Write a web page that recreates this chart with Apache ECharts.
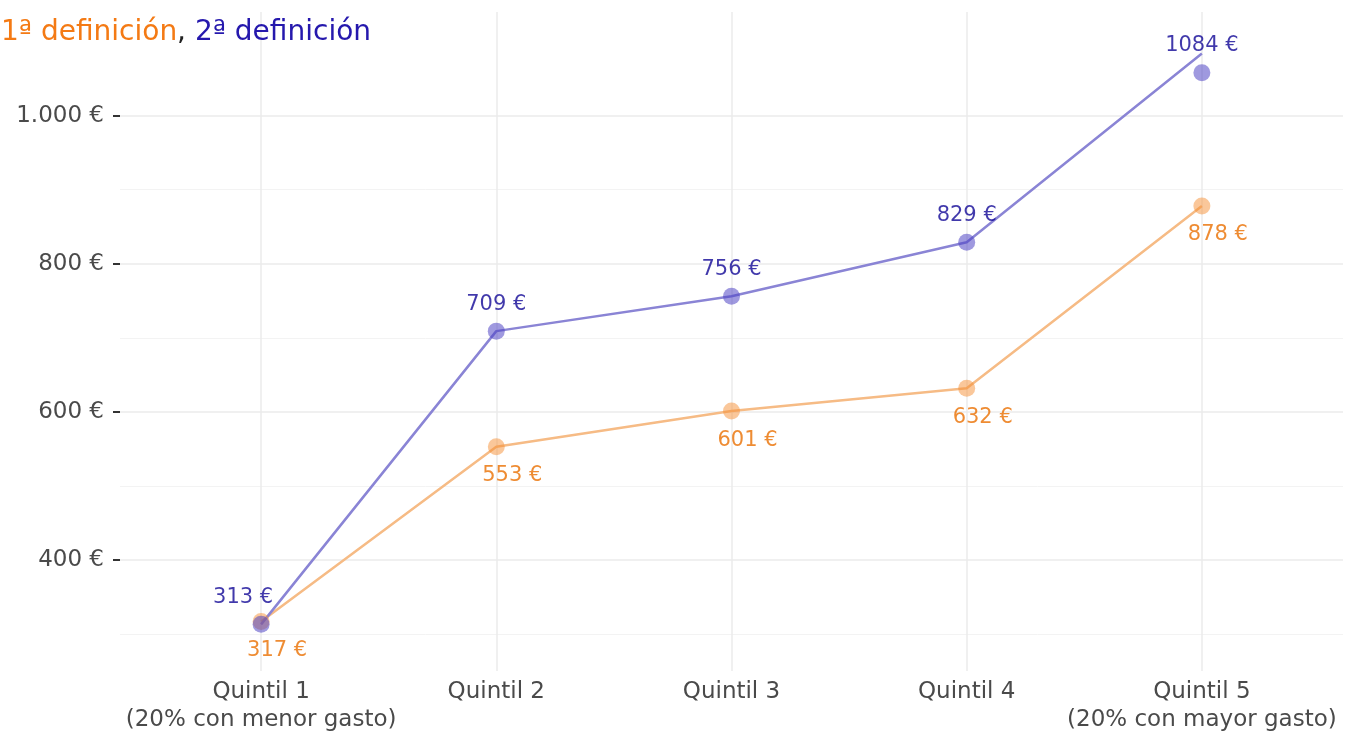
<!DOCTYPE html>
<html><head><meta charset="utf-8">
<script src="https://cdn.jsdelivr.net/npm/echarts@6/dist/echarts.min.js"></script>
<style>html,body{margin:0;padding:0;background:#fff}#c{width:1352px;height:734px}</style>
</head><body><div id="c"></div>
<script>
const categories = ['Quintil 1\n(20% con menor gasto)', 'Quintil 2', 'Quintil 3', 'Quintil 4', 'Quintil 5\n(20% con mayor gasto)'];
const def1 = [317, 553, 601, 632, 878];
const def2Line = [313, 709, 756, 829, 1084];
const def2Points = [313, 709, 756, 829, 1058];
const def2Labels = ['313 €', '709 €', '756 €', '829 €', '1084 €'];
const def1Labels = ['317 €', '553 €', '601 €', '632 €', '878 €'];
const yTicks = [400, 600, 800, 1000];
const yMinorTicks = [300, 500, 700, 900];

const FONT = '"DejaVu Sans", sans-serif';
const chart = echarts.init(document.getElementById('c'));
const idx = categories.map((_, i) => i);
function fmtEuro(v){ return (v >= 1000 ? (Math.floor(v/1000) + '.' + String(v%1000).padStart(3,'0')) : String(v)) + ' €'; }

chart.setOption({
  animation: false,
  title: {
    text: '{a|1ª definición}{c|, }{b|2ª definición}',
    left: -4, top: 14,
    textStyle: { rich: {
      a: { color: '#f47a14', fontSize: 28, fontFamily: FONT, fontWeight: 'normal' },
      b: { color: '#2518ad', fontSize: 28, fontFamily: FONT, fontWeight: 'normal' },
      c: { color: '#222', fontSize: 28, fontFamily: FONT, fontWeight: 'normal' }
    } }
  },
  grid: { left: 120, right: 9, top: 12, bottom: 63, containLabel: false },
  xAxis: {
    type: 'value', min: -0.6, max: 4.6,
    axisLine: { show: false, onZero: false },
    axisTick: { show: false, customValues: idx },
    axisLabel: { customValues: idx, formatter: v => categories[Math.round(v)] || '', color: '#4a4a4a', fontSize: 23, fontFamily: FONT, margin: 7, lineHeight: 28 },
    splitLine: { show: true, lineStyle: { color: '#ebebeb', width: 1.5 } }
  },
  yAxis: [{
    type: 'value', min: 250, max: 1140,
    axisLine: { show: false, onZero: false },
    axisTick: { show: true, customValues: yTicks, length: 7, lineStyle: { color: '#333', width: 2 } },
    axisLabel: { customValues: yTicks, formatter: fmtEuro, color: '#4a4a4a', fontSize: 23, fontFamily: FONT, margin: 16 },
    splitLine: { show: true, lineStyle: { color: '#ebebeb', width: 1.5 } }
  }, {
    type: 'value', min: 250, max: 1140, position: 'left',
    axisLine: { show: false, onZero: false },
    axisTick: { show: false, customValues: yMinorTicks },
    axisLabel: { show: false, customValues: yMinorTicks },
    splitLine: { show: true, lineStyle: { color: '#f3f3f3', width: 1 } }
  }],
  series: [
    { type: 'line', data: def1.map((v,i)=>[i,v]), symbol: 'none', lineStyle: { color: '#f6bb85', width: 2.5 }, z: 2 },
    { type: 'line', data: def2Line.map((v,i)=>[i,v]), symbol: 'none', lineStyle: { color: '#8a84d5', width: 2.5 }, z: 2 },
    { type: 'scatter', data: def1.map((v,i)=>({ value:[i,v], label: { offset: [16, 0] } })), symbolSize: 17,
      itemStyle: { color: 'rgba(244,142,50,0.62)' }, z: 3,
      label: { show: true, position: 'bottom', distance: 10, formatter: p => def1Labels[p.dataIndex], color: '#ea6f00', fontSize: 21, fontFamily: FONT } },
    { type: 'scatter', data: def2Points.map((v,i)=>({ value:[i,v], label: { offset: [i===0 ? -18 : 0, 0] } })), symbolSize: 17,
      itemStyle: { color: 'rgba(78,66,195,0.68)' }, z: 4,
      label: { show: true, position: 'top', distance: 8, formatter: p => def2Labels[p.dataIndex], color: '#120796', fontSize: 21, fontFamily: FONT } }
  ]
});
</script></body></html>
